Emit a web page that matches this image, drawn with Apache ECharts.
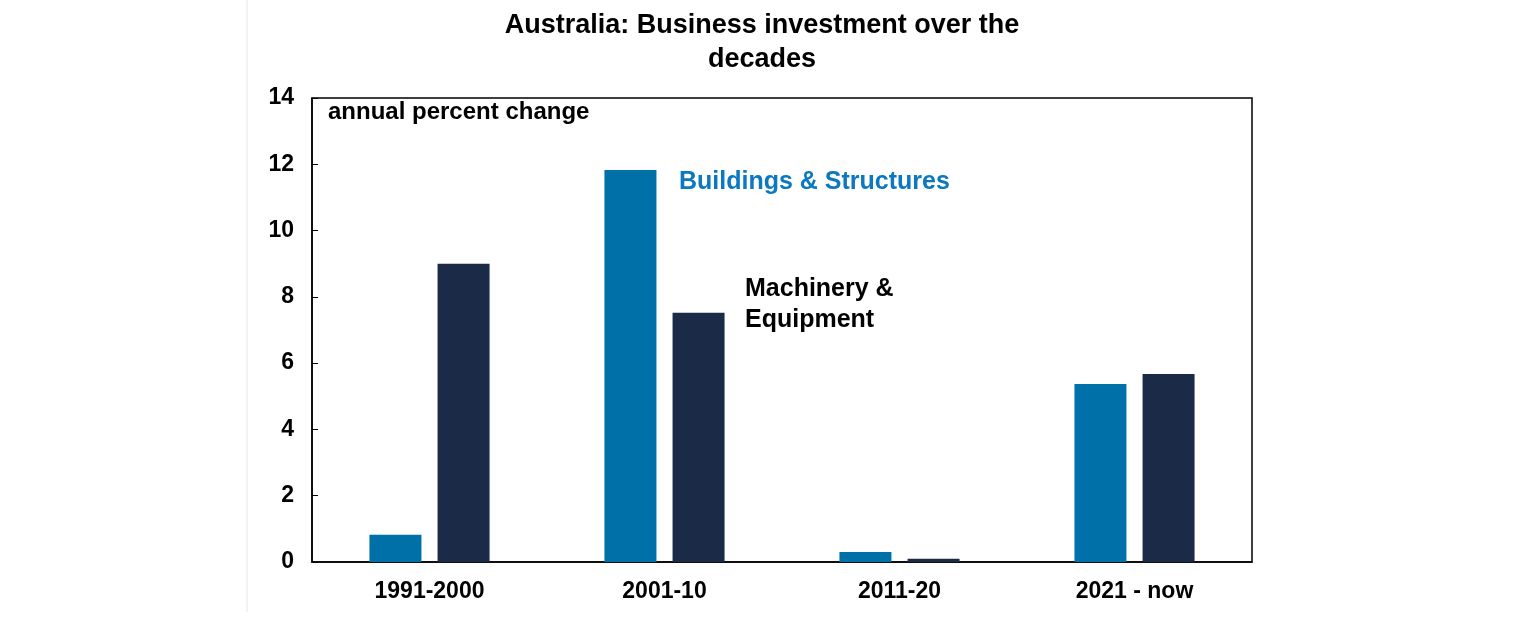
<!DOCTYPE html>
<html><head><meta charset="utf-8">
<script src="https://cdn.jsdelivr.net/npm/echarts@6/dist/echarts.min.js"></script>
<style>html,body{margin:0;background:#fff}#main{width:1536px;height:630px}</style>
</head><body><div id="main"></div>
<script>
var categories = ['1991-2000', '2001-10', '2011-20', '2021 - now'];
var buildings = [0.82, 11.83, 0.3, 5.37];
var machinery = [9.0, 7.52, 0.1, 5.67];
var yTicks = [0, 2, 4, 6, 8, 10, 12, 14];

var myChart = echarts.init(document.getElementById('main'));
var font = 'Liberation Sans, Arial, sans-serif';
var option = {
    animation: false,
    title: {
        text: 'Australia: Business investment over the\ndecades',
        left: 757, top: 4, textAlign: 'center',
        textStyle: {fontFamily: font, fontSize: 27, fontWeight: 'bold', color: '#000', lineHeight: 34}
    },
    grid: {left: 312, right: 284, top: 98, bottom: 68},
    xAxis: {
        type: 'category', data: categories,
        axisLine: {lineStyle: {color: '#000', width: 1.5}},
        axisTick: {show: false},
        axisLabel: {fontFamily: font, fontSize: 23, fontWeight: 'bold', color: '#000', margin: 18}
    },
    yAxis: {
        type: 'value', min: yTicks[0], max: yTicks[yTicks.length - 1], interval: 2,
        axisLine: {show: true, lineStyle: {color: '#000', width: 1.5}},
        axisTick: {show: true, inside: true, length: 6, lineStyle: {color: '#000'}},
        splitLine: {show: false},
        axisLabel: {fontFamily: font, fontSize: 23, fontWeight: 'bold', color: '#000', margin: 18}
    },
    graphic: [
        {type: 'rect', shape: {x: 312, y: 98, width: 940, height: 464}, style: {fill: 'none', stroke: '#000', lineWidth: 1.5}, silent: true},
        {type: 'line', shape: {x1: 247, y1: 0, x2: 247, y2: 612}, style: {stroke: '#e6e6e6', lineWidth: 1}},
        {type: 'text', left: 328, top: 100, style: {text: 'annual percent change', font: 'bold 24px ' + font, fill: '#000'}},
        {type: 'text', left: 679, top: 170, style: {text: 'Buildings & Structures', font: 'bold 25px ' + font, fill: '#0B78C0'}},
        {type: 'text', left: 745, top: 274, style: {text: 'Machinery &\nEquipment', font: 'bold 25px ' + font, fill: '#000', align: 'center', lineHeight: 31, x: 0}}
    ],
    series: [
        {name: 'Buildings & Structures', type: 'bar', data: buildings, barWidth: 52, barGap: '31%', itemStyle: {color: '#0070A8'}},
        {name: 'Machinery & Equipment', type: 'bar', data: machinery, barWidth: 52, itemStyle: {color: '#1B2A47'}}
    ]
};
myChart.setOption(option);
</script>
</body></html>
